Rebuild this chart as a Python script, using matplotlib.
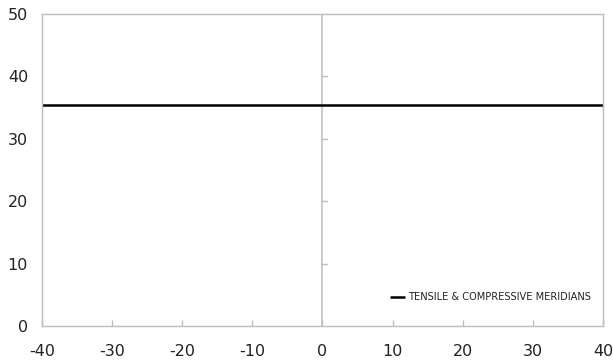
import matplotlib
matplotlib.use("Agg")
import matplotlib.pyplot as plt
import matplotlib.transforms as mtransforms

plt.rcParams["axes.unicode_minus"] = False

# Meridian trace (constant deviatoric radius)
x_vals = [-40, 40]
r_vals = [35.36, 35.36]
series_label = "TENSILE & COMPRESSIVE MERIDIANS"

x_ticks = [-40, -30, -20, -10, 0, 10, 20, 30, 40]
y_ticks = [0, 10, 20, 30, 40, 50]

grey = "#BDBDBD"

fig = plt.figure(figsize=(6.13, 3.64), dpi=100)
ax = fig.add_axes([0.0685, 0.1044, 0.915, 0.857])

ax.plot(x_vals, r_vals, color="black", lw=1.8, label=series_label, solid_capstyle="butt")

ax.set_xlim(-40, 40)
ax.set_ylim(0, 50)
ax.set_xticks(x_ticks)
ax.set_yticks(y_ticks)

for sp in ax.spines.values():
    sp.set_color(grey)
    sp.set_linewidth(1.0)

# vertical axis crossing at x = 0
ax.axvline(0, color=grey, lw=1.1, zorder=1)
trans = mtransforms.blended_transform_factory(ax.transAxes, ax.transData)
for yt in y_ticks[1:-1]:
    ax.plot([0.5, 0.508], [yt, yt], color=grey, lw=1.0, transform=trans, zorder=1)

ax.tick_params(axis="x", direction="in", length=4, color=grey, width=1.0,
               labelsize=11.5, pad=13, labelcolor="#222222")
ax.tick_params(axis="y", length=0, labelsize=11.5, pad=10, labelcolor="#222222")

leg = ax.legend(loc="center right", bbox_to_anchor=(0.985, 0.093), frameon=False,
                fontsize=7.1, handlelength=1.5, handletextpad=0.3, borderaxespad=0)
for t in leg.get_texts():
    t.set_color("#222222")

fig.savefig("out.png", dpi=100)
